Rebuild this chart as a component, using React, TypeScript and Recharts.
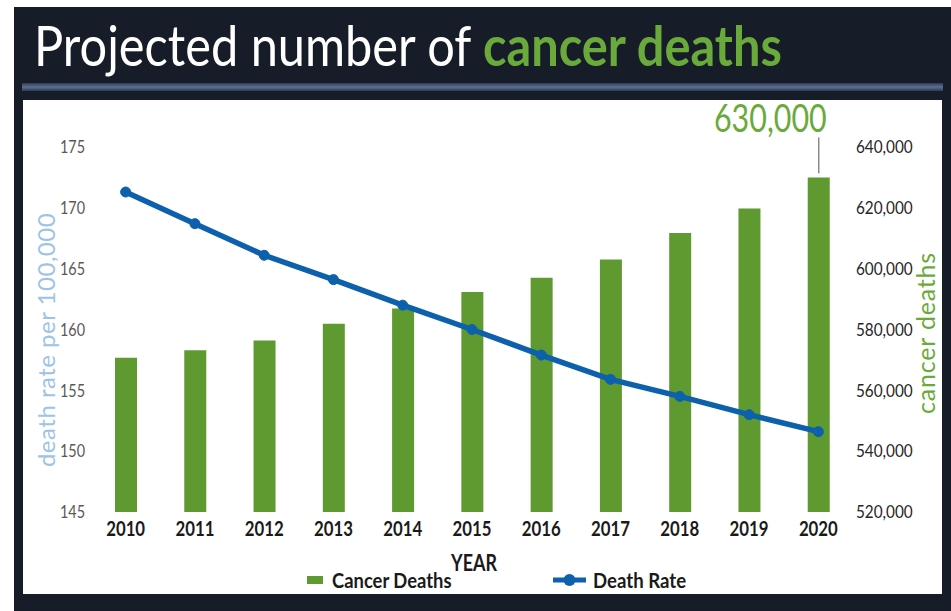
import React from "react";
import { ComposedChart, Bar, Line, XAxis, YAxis, LabelList } from "recharts";

const FONT = 'Lato, "Open Sans", sans-serif';

const years = ["2010", "2011", "2012", "2013", "2014", "2015", "2016", "2017", "2018", "2019", "2020"];
const cancerDeaths = [570700, 573200, 576400, 581900, 586900, 592300, 597000, 603000, 611700, 619800, 630000];
const deathRate = [171.3, 168.7, 166.1, 164.1, 162.0, 160.0, 157.9, 155.9, 154.5, 153.0, 151.6];
const rateTicks = [145, 150, 155, 160, 165, 170, 175];
const deathTicks = [520000, 540000, 560000, 580000, 600000, 620000, 640000];

const data = years.map((year, i) => ({ year, deaths: cancerDeaths[i], rate: deathRate[i] }));

const fmt = (v: number) => v.toLocaleString("en-US");

// narrow-looking tick text (no condensed font installed, so squeeze it)
const squeezedTick =
  (anchor: string, dy: string, size: number, color: string, weight: string, sx: number, format?: (v: any) => string) =>
  (props: any) => {
    const { x, y, payload } = props;
    const label = format ? format(payload.value) : payload.value;
    return (
      <g transform={`translate(${x},${y})`}>
        <text
          transform={`scale(${sx},1)`}
          textAnchor={anchor}
          dy={dy}
          fill={color}
          fontSize={size}
          fontWeight={weight}
          fontFamily={FONT}
        >
          {label}
        </text>
      </g>
    );
  };

// callout over the last bar ("630,000" with a leader line)
const PeakLabel = (props: any) => {
  const { x, y, width, index } = props;
  if (index !== years.length - 1) return null;
  const cx = x + width / 2;
  return (
    <g>
      <line x1={cx} x2={cx} y1={y - 40} y2={y - 4} stroke="#8a8a8a" strokeWidth={1.5} />
      <g transform={`translate(${cx + 8},${y - 45})`}>
        <text transform="scale(0.78,1)" textAnchor="end" fill="#6aaa3a" fontSize={39} fontFamily={FONT}>
          {fmt(cancerDeaths[index])}
        </text>
      </g>
    </g>
  );
};

const squeeze = (sx: number, origin = "left center"): React.CSSProperties => ({
  transform: `scaleX(${sx})`,
  transformOrigin: origin,
});

export default function App() {
  return (
    <div style={{ position: "absolute", left: 0, top: 0, width: 951, height: 611, background: "#fff", overflow: "hidden", fontFamily: FONT }}>
      {/* dark frame */}
      <div style={{ position: "absolute", left: 14, top: 7, width: 937, height: 604, background: "#161c28" }} />
      <div
        style={{
          position: "absolute",
          left: 22,
          top: 83,
          width: 921,
          height: 8,
          background: "linear-gradient(#2c3a55, #5d6f92 50%, #2c3a55)",
        }}
      />
      <div style={{ position: "absolute", left: 23, top: 100, width: 919, height: 494, background: "#fff" }} />

      <div
        style={{
          position: "absolute",
          left: 34,
          top: 7,
          fontSize: 56,
          lineHeight: "76px",
          color: "#ffffff",
          whiteSpace: "nowrap",
          ...squeeze(0.87),
        }}
      >
        Projected number of <span style={{ color: "#6aaa3a", fontWeight: "bold" }}>cancer deaths</span>
      </div>

      <ComposedChart
        width={951}
        height={611}
        data={data}
        margin={{ top: 147, right: 18, bottom: 69, left: 31 }}
        style={{ position: "absolute", left: 0, top: 0 }}
      >
        <XAxis
          dataKey="year"
          height={30}
          tickLine={false}
          axisLine={false}
          tickSize={0}
          tickMargin={9}
          tick={squeezedTick("middle", "0.71em", 21, "#1a1a1a", "bold", 0.8)}
        />
        <YAxis
          yAxisId="rate"
          width={60}
          domain={[145, 175]}
          ticks={rateTicks}
          tickLine={false}
          axisLine={false}
          tickSize={0}
          tickMargin={6}
          tick={squeezedTick("end", "0.35em", 18, "#595959", "normal", 0.8)}
        />
        <YAxis
          yAxisId="deaths"
          orientation="right"
          width={80}
          domain={[520000, 640000]}
          ticks={deathTicks}
          tickLine={false}
          axisLine={false}
          tickSize={0}
          tickMargin={3}
          tick={squeezedTick("start", "0.35em", 18, "#262626", "normal", 0.85, fmt)}
        />
        <Bar yAxisId="deaths" dataKey="deaths" fill="#5f9a30" barSize={22} isAnimationActive={false}>
          <LabelList dataKey="deaths" content={PeakLabel} />
        </Bar>
        <Line
          yAxisId="rate"
          dataKey="rate"
          stroke="#0d60ab"
          strokeWidth={5.5}
          dot={{ r: 5, fill: "#0d60ab", stroke: "#0d60ab", strokeWidth: 1 }}
          isAnimationActive={false}
        />
      </ComposedChart>

      {/* axis titles */}
      <div
        style={{
          position: "absolute",
          left: 45,
          top: 340,
          transform: "translate(-50%, -50%) rotate(-90deg)",
          color: "#9dc3e6",
          fontSize: 24,
          letterSpacing: 0.5,
          whiteSpace: "nowrap",
        }}
      >
        death rate per 100,000
      </div>
      <div
        style={{
          position: "absolute",
          left: 925,
          top: 333,
          transform: "translate(-50%, -50%) rotate(-90deg)",
          color: "#6aaa3a",
          fontSize: 25,
          letterSpacing: 0.8,
          whiteSpace: "nowrap",
        }}
      >
        cancer deaths
      </div>
      <div
        style={{
          position: "absolute",
          left: 474,
          top: 562,
          transform: "translate(-50%, -50%) scaleX(0.78)",
          fontSize: 23,
          fontWeight: "bold",
          color: "#1a1a1a",
          lineHeight: "23px",
        }}
      >
        YEAR
      </div>

      {/* legend */}
      <div style={{ position: "absolute", left: 307, top: 568, height: 24, display: "flex", alignItems: "center", whiteSpace: "nowrap" }}>
        <span style={{ display: "inline-block", width: 16, height: 8, background: "#5f9a30", marginRight: 9 }} />
        <span style={{ fontSize: 20, fontWeight: "bold", color: "#1a1a1a", ...squeeze(0.92) }}>Cancer Deaths</span>
      </div>
      <div style={{ position: "absolute", left: 553, top: 568, height: 24, display: "flex", alignItems: "center", whiteSpace: "nowrap" }}>
        <svg width={33} height={14} style={{ marginRight: 7 }}>
          <line x1={0} y1={7} x2={33} y2={7} stroke="#0d60ab" strokeWidth={5} />
          <circle cx={16.5} cy={7} r={6} fill="#0d60ab" />
        </svg>
        <span style={{ fontSize: 20, fontWeight: "bold", color: "#1a1a1a", ...squeeze(0.93) }}>Death Rate</span>
      </div>
    </div>
  );
}
